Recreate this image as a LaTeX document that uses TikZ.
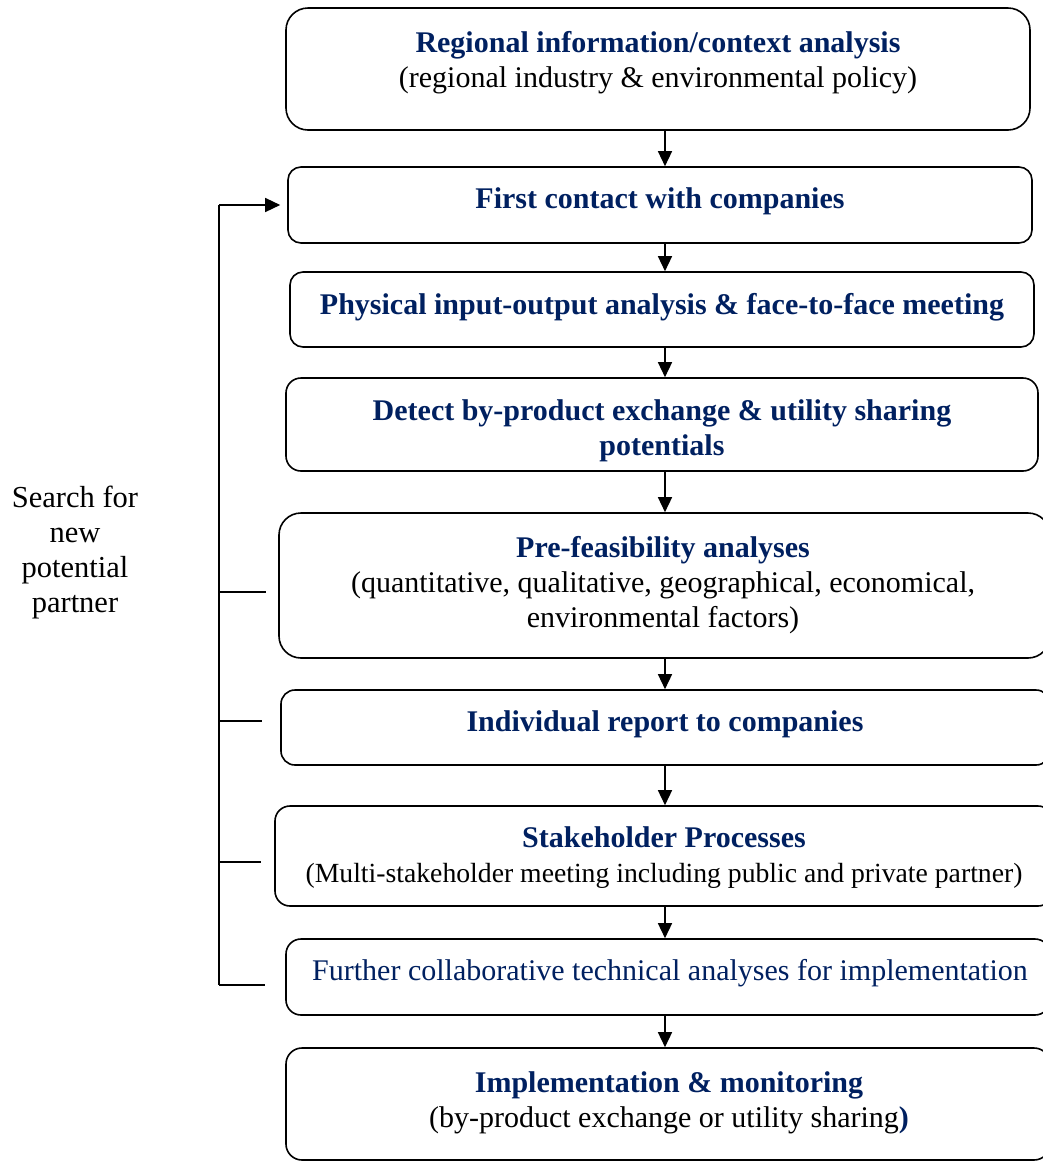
\documentclass[tikz,border=0pt]{standalone}
\usepackage{fontspec}
\setmainfont{Liberation Serif}
\usetikzlibrary{arrows.meta}
\definecolor{navy}{RGB}{0,32,96}
\tikzset{
  x=1pt, y=-1pt,
  box/.style={draw, line width=1.6pt, rounded corners=14pt, inner sep=0pt},
  txt/.style={align=center, inner sep=0pt, font=\fontsize{30}{35}\selectfont},
  ttl/.style={txt, text=navy, font=\fontsize{30}{35}\selectfont\bfseries},
  arr/.style={line width=1.4pt, -{Triangle[length=15pt,width=14pt]}},
  rail/.style={line width=1.4pt}
}
\newcommand{\boxat}[6]{% name, x1, x2, y1, y2, radius
  \node[box, rounded corners=#6, minimum width=#3-#2, minimum height=#5-#4]
    (#1) at ({(#2+#3)/2},{(#4+#5)/2}) {};}
\begin{document}
\begin{tikzpicture}
\useasboundingbox (0,0) rectangle (1043,1163);
\clip (0,0) rectangle (1043,1163);

% process boxes
\boxat{b1}{286}{1030}{8}{130}{22pt}
\boxat{b2}{288}{1032}{167}{243}{13pt}
\boxat{b3}{290}{1034}{272}{347}{13pt}
\boxat{b4}{286}{1038}{378}{471}{15pt}
\boxat{b5}{279}{1050}{513}{658}{22pt}
\boxat{b6}{281}{1050}{690}{765}{14pt}
\boxat{b7}{275}{1053}{806}{906}{15pt}
\boxat{b8}{286}{1050}{939}{1015}{15pt}
\boxat{b9}{286}{1050}{1048}{1160}{16pt}

% box texts
\node[txt] (t1) at (658,63) {\textcolor{navy}{\bfseries Regional information/context analysis}\\(regional industry \& environmental policy)};
\node[ttl] (t2) at (660,201) {First contact with companies};
\node[ttl] (t3) at (662,307) {Physical input-output analysis \& face-to-face meeting};
\node[ttl] (t4) at (662,430.5) {Detect by-product exchange \& utility sharing\\potentials};
\node[txt] (t5) at (663,585.5) {\textcolor{navy}{\bfseries Pre-feasibility analyses}\\(quantitative, qualitative, geographical, economical,\\environmental factors)};
\node[ttl] (t6) at (665,724) {Individual report to companies};
\node[txt] (t7) at (664,858) {\textcolor{navy}{\bfseries Stakeholder Processes}\\{\fontsize{27.7}{34}\selectfont(Multi-stakeholder meeting including public and private partner)}};
\node[txt, text=navy] (t8) at (670,973) {Further collaborative technical analyses for implementation};
\node[txt] (t9) at (669,1103) {\textcolor{navy}{\bfseries Implementation \& monitoring}\\(by-product exchange or utility sharing\textcolor{navy}{\bfseries )}};

% side label
\node[txt, font=\fontsize{30.5}{35}\selectfont] (side) at (75,552) {Search for\\new\\potential\\partner};

% main flow
\coordinate (ax) at (665,0);
\draw[arr] (b1.south -| ax) -- (b2.north -| ax);
\draw[arr] (b2.south -| ax) -- (b3.north -| ax);
\draw[arr] (b3.south -| ax) -- (b4.north -| ax);
\draw[arr] (b4.south -| ax) -- (b5.north -| ax);
\draw[arr] (b5.south -| ax) -- (b6.north -| ax);
\draw[arr] (b6.south -| ax) -- (b7.north -| ax);
\draw[arr] (b7.south -| ax) -- (b8.north -| ax);
\draw[arr] (b8.south -| ax) -- (b9.north -| ax);

% feedback rail
\coordinate (rtop) at (219,205);
\coordinate (r5) at (219,592);
\coordinate (r6) at (219,721);
\coordinate (r7) at (219,862);
\coordinate (r8) at (219,985);
\draw[rail] (rtop) -- (r8);
\draw[arr, shorten >=7pt] (rtop) -- (b2.west |- rtop);
\draw[rail, shorten >=12pt] (r5) -- (b5.west |- r5);
\draw[rail, shorten >=18pt] (r6) -- (b6.west |- r6);
\draw[rail, shorten >=13pt] (r7) -- (b7.west |- r7);
\draw[rail, shorten >=20pt] (r8) -- (b8.west |- r8);
\end{tikzpicture}
\end{document}
